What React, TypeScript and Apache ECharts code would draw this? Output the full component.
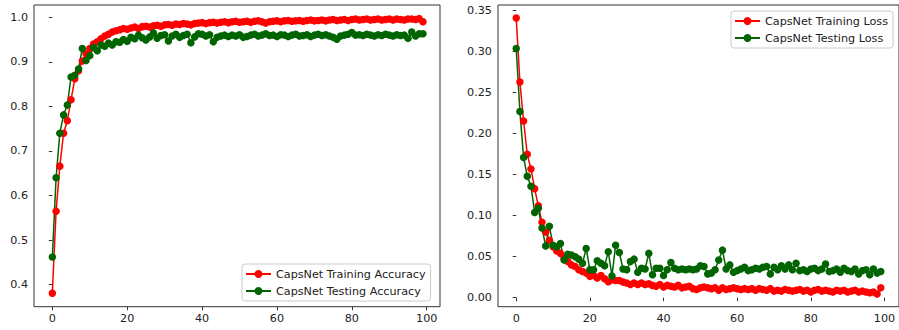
import React, { useEffect, useRef } from "react";
import * as echarts from "echarts";

const epochs: number[] = Array.from({ length: 100 }, (_, i) => i);

const trainAcc: number[] = [
  0.381, 0.565, 0.666, 0.740, 0.768, 0.815, 0.862, 0.880, 0.902, 0.918,
  0.930, 0.940, 0.945, 0.952, 0.958, 0.962, 0.967, 0.970, 0.972, 0.975,
  0.973, 0.976, 0.978, 0.975, 0.979, 0.980, 0.978, 0.981, 0.982, 0.980,
  0.983, 0.984, 0.982, 0.985, 0.984, 0.986, 0.985, 0.983, 0.986, 0.987,
  0.988, 0.986, 0.988, 0.989, 0.987, 0.989, 0.990, 0.988, 0.990, 0.991,
  0.989, 0.990, 0.991, 0.989, 0.991, 0.992, 0.990, 0.987, 0.990, 0.991,
  0.992, 0.990, 0.992, 0.993, 0.991, 0.992, 0.993, 0.991, 0.993, 0.994,
  0.992, 0.993, 0.994, 0.992, 0.994, 0.995, 0.993, 0.994, 0.995, 0.993,
  0.995, 0.996, 0.994, 0.995, 0.996, 0.994, 0.995, 0.996, 0.994, 0.995,
  0.996, 0.994, 0.996, 0.995, 0.994, 0.996, 0.996, 0.995, 0.997, 0.990,
];

const testAcc: number[] = [
  0.462, 0.640, 0.740, 0.781, 0.803, 0.866, 0.870, 0.884, 0.930, 0.903,
  0.914, 0.932, 0.925, 0.938, 0.935, 0.942, 0.938, 0.945, 0.944, 0.950,
  0.946, 0.955, 0.952, 0.960, 0.954, 0.949, 0.956, 0.965, 0.953, 0.959,
  0.961, 0.947, 0.958, 0.962, 0.955, 0.959, 0.962, 0.943, 0.956, 0.963,
  0.962, 0.958, 0.961, 0.945, 0.955, 0.958, 0.960, 0.957, 0.960, 0.958,
  0.961, 0.955, 0.957, 0.960, 0.962, 0.958, 0.960, 0.963, 0.959, 0.960,
  0.957, 0.961, 0.960, 0.957, 0.960, 0.962, 0.958, 0.959, 0.961, 0.957,
  0.960, 0.962, 0.959, 0.961, 0.958, 0.955, 0.951, 0.958, 0.960, 0.962,
  0.966, 0.960, 0.961, 0.959, 0.962, 0.960, 0.958, 0.961, 0.959, 0.962,
  0.960, 0.958, 0.961, 0.959, 0.960, 0.953, 0.967, 0.958, 0.963, 0.963,
];

const trainLoss: number[] = [
  0.341, 0.263, 0.2155, 0.175, 0.157, 0.133, 0.112, 0.092, 0.080, 0.070,
  0.062, 0.057, 0.054, 0.048, 0.044, 0.040, 0.038, 0.034, 0.032, 0.030,
  0.026, 0.027, 0.024, 0.027, 0.023, 0.0195, 0.022, 0.021, 0.021, 0.019,
  0.018, 0.016, 0.018, 0.016, 0.018, 0.016, 0.017, 0.015, 0.014, 0.016,
  0.013, 0.015, 0.014, 0.013, 0.015, 0.012, 0.013, 0.014, 0.011, 0.010,
  0.012, 0.013, 0.012, 0.011, 0.012, 0.009, 0.012, 0.010, 0.011, 0.012,
  0.011, 0.010, 0.011, 0.010, 0.011, 0.009, 0.011, 0.010, 0.009, 0.011,
  0.008, 0.009, 0.008, 0.010, 0.009, 0.008, 0.009, 0.010, 0.008, 0.009,
  0.007, 0.009, 0.010, 0.008, 0.009, 0.008, 0.007, 0.009, 0.008, 0.009,
  0.007, 0.008, 0.009, 0.007, 0.008, 0.007, 0.006, 0.007, 0.0045, 0.012,
];

const testLoss: number[] = [
  0.304, 0.227, 0.171, 0.148, 0.136, 0.104, 0.109, 0.085, 0.063, 0.087,
  0.064, 0.062, 0.066, 0.046, 0.053, 0.052, 0.050, 0.047, 0.042, 0.060,
  0.034, 0.034, 0.045, 0.042, 0.039, 0.056, 0.0265, 0.064, 0.055, 0.035,
  0.034, 0.044, 0.047, 0.031, 0.036, 0.035, 0.054, 0.028, 0.036, 0.036,
  0.027, 0.034, 0.043, 0.036, 0.034, 0.035, 0.034, 0.035, 0.034, 0.035,
  0.039, 0.038, 0.029, 0.030, 0.034, 0.046, 0.058, 0.035, 0.040, 0.031,
  0.033, 0.035, 0.037, 0.033, 0.034, 0.036, 0.035, 0.037, 0.038, 0.029,
  0.037, 0.034, 0.039, 0.035, 0.040, 0.034, 0.042, 0.033, 0.034, 0.032,
  0.035, 0.036, 0.033, 0.035, 0.041, 0.032, 0.033, 0.035, 0.031, 0.036,
  0.033, 0.032, 0.035, 0.029, 0.033, 0.034, 0.028, 0.035, 0.030, 0.032,
];

const xTicks: number[] = [0, 20, 40, 60, 80, 100];
const accTicks: number[] = [0.4, 0.5, 0.6, 0.7, 0.8, 0.9, 1.0];
const lossTicks: number[] = [0.0, 0.05, 0.1, 0.15, 0.2, 0.25, 0.3, 0.35];

const seriesNames = {
  trainAcc: "CapsNet Training Accuracy",
  testAcc: "CapsNet Testing Accuracy",
  trainLoss: "CapsNet Training Loss",
  testLoss: "CapsNet Testing Loss",
};

const RED = "#ff0000";
const GREEN = "#006400";
const FONT = "DejaVu Sans";
const FS = 11.2;
const AXIS = "#333333";

export default function App() {
  const ref = useRef<HTMLDivElement>(null);
  useEffect(() => {
    if (!ref.current) return;
    const chart = echarts.init(ref.current, null, { renderer: "svg" });

    const xAxisBase = (gridIndex: number, min: number, max: number) => ({
      type: "value",
      gridIndex,
      min,
      max,
      axisLine: { show: false },
      splitLine: { show: false },
      axisTick: {
        show: true,
        length: 3.5,
        lineStyle: { color: AXIS, width: 1 },
        customValues: xTicks,
      },
      axisLabel: {
        show: true,
        margin: 6,
        color: "#222",
        fontFamily: FONT,
        fontSize: FS,
        customValues: xTicks,
        formatter: (v: number) => String(Math.round(v)),
      },
    });

    const yAxisBase = (
      gridIndex: number,
      min: number,
      max: number,
      ticks: number[],
      dec: number
    ) => ({
      type: "value",
      gridIndex,
      min,
      max,
      axisLine: { show: false },
      splitLine: { show: false },
      axisTick: {
        show: true,
        length: 3.5,
        lineStyle: { color: AXIS, width: 1 },
        customValues: ticks,
      },
      axisLabel: {
        show: true,
        margin: 6,
        color: "#222",
        fontFamily: FONT,
        fontSize: FS,
        customValues: ticks,
        formatter: (v: number) => v.toFixed(dec),
      },
    });

    const lineSeries = (
      name: string,
      data: number[],
      color: string,
      idx: number
    ) => ({
      name,
      type: "line",
      xAxisIndex: idx,
      yAxisIndex: idx,
      data: epochs.map((e, i) => [e, data[i]]),
      symbol: "circle",
      symbolSize: 7.5,
      showAllSymbol: true,
      clip: false,
      lineStyle: { color, width: 1.5 },
      itemStyle: { color, borderWidth: 0 },
      emphasis: { disabled: true },
    });

    const legendBase = {
      orient: "vertical",
      itemWidth: 25,
      itemHeight: 10,
      itemGap: 5,
      itemTextGap: 8,
      padding: [4, 5, 4, 3],
      borderColor: "#cccccc",
      borderWidth: 1,
      borderRadius: 3,
      backgroundColor: "rgba(255,255,255,0.8)",
      textStyle: {
        fontFamily: FONT,
        fontSize: FS,
        color: "#222",
        lineHeight: 12,
      },
      selectedMode: false,
    };

    chart.setOption({
      animation: false,
      backgroundColor: "#ffffff",
      textStyle: { fontFamily: FONT },
      grid: [
        {
          left: 34,
          top: 5,
          width: 406,
          height: 301.7,
          show: true,
          borderColor: AXIS,
          borderWidth: 1,
          backgroundColor: "transparent",
        },
        {
          left: 498,
          top: 5,
          width: 406.5,
          height: 301.7,
          show: true,
          borderColor: AXIS,
          borderWidth: 1,
          backgroundColor: "transparent",
        },
      ],
      xAxis: [xAxisBase(0, -4.9, 103.55), xAxisBase(1, -4.95, 103.95)],
      yAxis: [
        yAxisBase(0, 0.3506, 1.0276, accTicks, 1),
        yAxisBase(1, -0.011, 0.357, lossTicks, 2),
      ],
      legend: [
        {
          ...legendBase,
          left: 242,
          top: 264,
          data: [seriesNames.trainAcc, seriesNames.testAcc],
        },
        {
          ...legendBase,
          left: 731,
          top: 11,
          data: [seriesNames.trainLoss, seriesNames.testLoss],
        },
      ],
      series: [
        lineSeries(seriesNames.trainAcc, trainAcc, RED, 0),
        lineSeries(seriesNames.testAcc, testAcc, GREEN, 0),
        lineSeries(seriesNames.trainLoss, trainLoss, RED, 1),
        lineSeries(seriesNames.testLoss, testLoss, GREEN, 1),
      ],
    });

    return () => chart.dispose();
  }, []);

  return (
    <div
      ref={ref}
      style={{
        position: "fixed",
        left: 0,
        top: 0,
        width: 899,
        height: 330,
        background: "#fff",
      }}
    />
  );
}
